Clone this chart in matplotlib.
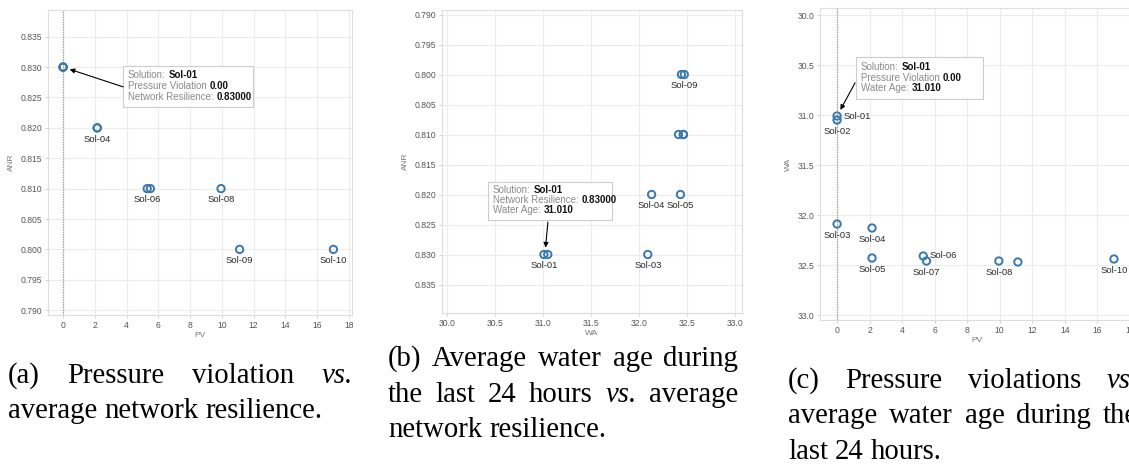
import numpy as np
import matplotlib.pyplot as plt
from matplotlib.patches import Rectangle

W, H = 1129, 465

# data
solutions = ['Sol-01', 'Sol-02', 'Sol-03', 'Sol-04', 'Sol-05',
             'Sol-06', 'Sol-07', 'Sol-08', 'Sol-09', 'Sol-10']
pv = [0.0, 0.0, 0.0, 2.15, 2.15, 5.3, 5.5, 9.95, 11.12, 17.03]
anr = [0.830, 0.830, 0.830, 0.820, 0.820, 0.810, 0.810, 0.810, 0.800, 0.800]
wa = [31.01, 31.05, 32.09, 32.13, 32.43, 32.41, 32.46, 32.46, 32.47, 32.44]

labels_a = ['Sol-04', 'Sol-06', 'Sol-08', 'Sol-09', 'Sol-10']
labels_b = ['Sol-01', 'Sol-03', 'Sol-04', 'Sol-05', 'Sol-09']
labels_c = ['Sol-01', 'Sol-02', 'Sol-03', 'Sol-04', 'Sol-05',
            'Sol-06', 'Sol-07', 'Sol-08', 'Sol-10']
right_labels_c = ['Sol-01', 'Sol-06']

pv_ticks = np.arange(0, 19, 2)
anr_ticks = np.arange(0.790, 0.8351, 0.005)
wa_ticks = np.arange(30.0, 33.01, 0.5)

cap_a = [['(a)', 'Pressure', 'violation', 'vs.'],
         ['average', 'network', 'resilience.']]
cap_b = [['(b)', 'Average', 'water', 'age', 'during'],
         ['the', 'last', '24', 'hours', 'vs.', 'average'],
         ['network', 'resilience.']]
cap_c = [['(c)', 'Pressure', 'violations', 'vs.'],
         ['average', 'water', 'age', 'during', 'the'],
         ['last', '24', 'hours.']]

BLUE = '#3a78ad'
SANS = 'Liberation Sans'
SERIF = 'Liberation Serif'

fig = plt.figure(figsize=(W / 100, H / 100), dpi=100)
fig.patch.set_facecolor('white')


def px_axes(left, top, right, bottom):
    return fig.add_axes([left / W, 1 - bottom / H, (right - left) / W, (bottom - top) / H])


def style(ax):
    for s in ax.spines.values():
        s.set_color('#dddddd')
        s.set_linewidth(0.8)
    ax.grid(True, color='#ececec', lw=0.8)
    ax.set_axisbelow(True)
    ax.tick_params(length=2, width=0.6, color='#cccccc', labelsize=6.2,
                   labelcolor='#555555', pad=2)
    for lab in ax.get_xticklabels() + ax.get_yticklabels():
        lab.set_family(SANS)


def points(ax, xs, ys, labels, right=()):
    ax.scatter(xs, ys, s=28, facecolors='none', edgecolors=BLUE,
               linewidths=1.4, zorder=3)
    for name, x, y in zip(solutions, xs, ys):
        if name not in labels:
            continue
        if name in right:
            ax.annotate(name, (x, y), xytext=(4.5, 0), textcoords='offset points',
                        ha='left', va='center', fontsize=6.8, color='#2a2a2a',
                        family=SANS, zorder=4)
        else:
            ax.annotate(name, (x, y), xytext=(0, -4.8), textcoords='offset points',
                        ha='center', va='top', fontsize=6.8, color='#2a2a2a',
                        family=SANS, zorder=4)


def tooltip(ax, rows, box, text_x, line_ys, tail, head):
    ax.add_patch(Rectangle((box[0], box[1]), box[2] - box[0], box[3] - box[1],
                           transform=ax.transAxes, fc='white', ec='#cccccc',
                           lw=0.8, zorder=5))
    for (lab, val), y in zip(rows, line_ys):
        t = ax.text(text_x, y, lab, transform=ax.transAxes, fontsize=7,
                    color='#8a8a8a', va='bottom', family=SANS, zorder=6)
        ax.annotate(val, xy=(1, 0), xycoords=t, xytext=(2.2, 0),
                    textcoords='offset points', va='bottom', fontsize=7,
                    weight='bold', color='#111111', family=SANS, zorder=6)
    ax.annotate('', xy=head, xycoords='data', xytext=tail, textcoords='axes fraction',
                arrowprops=dict(arrowstyle='-|>', color='black', lw=0.8,
                                mutation_scale=7, shrinkA=0, shrinkB=5),
                zorder=6)


# (a) PV vs ANR
ax1 = px_axes(48, 10, 352, 315)
style(ax1)
ax1.axvline(0, color='#999999', lw=0.9, ls=(0, (1, 1)), zorder=2)
points(ax1, pv, anr, labels_a)
ax1.set_xlim(-0.95, 18.2)
ax1.set_ylim(0.7892, 0.8394)
ax1.set_xticks(pv_ticks)
ax1.set_yticks(anr_ticks)
ax1.set_yticklabels([f'{v:.3f}' for v in anr_ticks])
ax1.set_xlabel('PV', fontsize=6, color='#777777', labelpad=2, family=SANS)
ax1.set_ylabel('ANR', fontsize=6, color='#777777', labelpad=4, family=SANS)
tooltip(ax1, [('Solution:', solutions[0]),
              ('Pressure Violation', f'{pv[0]:.2f}'),
              ('Network Resilience:', f'{anr[0]:.5f}')],
        (0.247, 0.682, 0.674, 0.816), 0.263, (0.770, 0.734, 0.700),
        (0.247, 0.748), (pv[0], anr[0]))

# (b) WA vs ANR
ax2 = px_axes(442, 10, 742, 313)
style(ax2)
points(ax2, wa, anr, labels_b)
ax2.set_xlim(29.95, 33.07)
ax2.set_ylim(0.83975, 0.78925)
ax2.set_xticks(wa_ticks)
ax2.set_xticklabels([f'{v:.1f}' for v in wa_ticks])
ax2.set_yticks(anr_ticks)
ax2.set_yticklabels([f'{v:.3f}' for v in anr_ticks])
ax2.set_xlabel('WA', fontsize=6, color='#777777', labelpad=2, family=SANS)
ax2.set_ylabel('ANR', fontsize=6, color='#777777', labelpad=4, family=SANS)
tooltip(ax2, [('Solution:', solutions[0]),
              ('Network Resilience:', f'{anr[0]:.5f}'),
              ('Water Age:', f'{wa[0]:.3f}')],
        (0.153, 0.307, 0.567, 0.432), 0.17, (0.390, 0.357, 0.324),
        (0.353, 0.300), (wa[0] + 0.01, anr[0]))

# (c) PV vs WA
ax3 = px_axes(820, 8, 1133, 320)
style(ax3)
ax3.axvline(0, color='#999999', lw=0.9, ls=(0, (1, 1)), zorder=2)
points(ax3, pv, wa, labels_c, right_labels_c)
ax3.set_xlim(-1.05, 18.2)
ax3.set_ylim(33.05, 29.93)
ax3.set_xticks(pv_ticks)
ax3.set_yticks(wa_ticks)
ax3.set_yticklabels([f'{v:.1f}' for v in wa_ticks])
ax3.set_xlabel('PV', fontsize=6, color='#777777', labelpad=2, family=SANS)
ax3.set_ylabel('WA', fontsize=6, color='#777777', labelpad=4, family=SANS)
tooltip(ax3, [('Solution:', solutions[0]),
              ('Pressure Violation', f'{pv[0]:.2f}'),
              ('Water Age:', f'{wa[0]:.3f}')],
        (0.115, 0.708, 0.521, 0.843), 0.131, (0.795, 0.760, 0.727),
        (0.112, 0.760), (pv[0], wa[0]))

# justified captions below the panels
renderer = fig.canvas.get_renderer()
CAP_SIZE = 20.7


def caption(lines, x0, x1, baselines):
    space = 0.25 * CAP_SIZE * 100 / 72
    for i, (words, yb) in enumerate(zip(lines, baselines)):
        texts = [fig.text(0, 1 - yb / H, w, fontsize=CAP_SIZE, family=SERIF,
                          style='italic' if w == 'vs.' else 'normal',
                          va='baseline', color='black')
                 for w in words]
        widths = [t.get_window_extent(renderer).width for t in texts]
        if i == len(lines) - 1 or len(words) < 2:
            gap = space
        else:
            gap = (x1 - x0 - sum(widths)) / (len(words) - 1)
        x = x0
        for t, w in zip(texts, widths):
            t.set_x(x / W)
            x += w + gap


caption(cap_a, 8, 353, [383, 418])
caption(cap_b, 388, 738, [366, 402, 437])
caption(cap_c, 788, 1138, [388, 423, 459])

fig.savefig('out.png', dpi=100)
